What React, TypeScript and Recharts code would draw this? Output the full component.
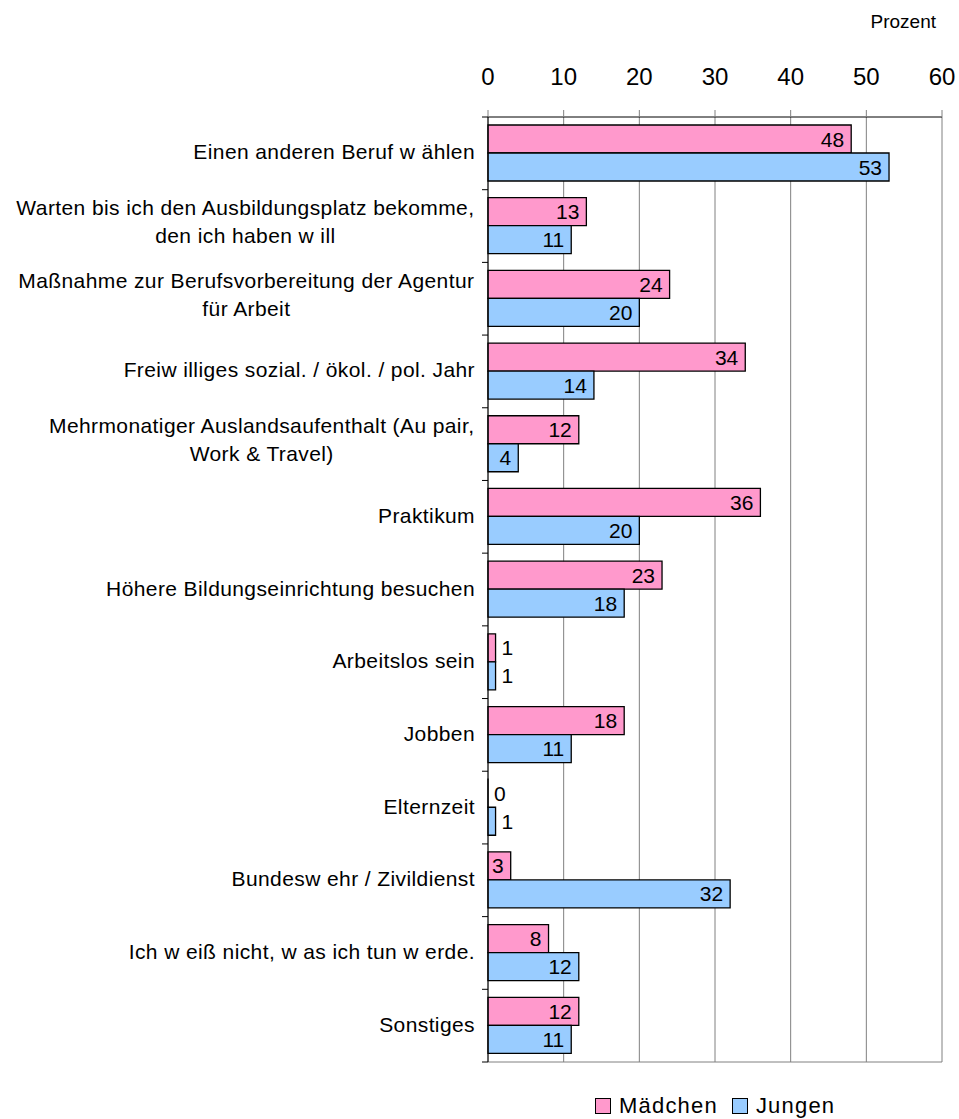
import { Bar, BarChart, CartesianGrid, Label, LabelList, Legend, XAxis, YAxis } from "recharts";

const categories: string[][] = [
  ["Einen anderen Beruf w ählen"],
  ["Warten bis ich den Ausbildungsplatz bekomme,", "den ich haben w ill"],
  ["Maßnahme zur Berufsvorbereitung der Agentur", "für Arbeit"],
  ["Freiw illiges sozial. / ökol. / pol. Jahr"],
  ["Mehrmonatiger Auslandsaufenthalt (Au pair,", "Work & Travel)"],
  ["Praktikum"],
  ["Höhere Bildungseinrichtung besuchen"],
  ["Arbeitslos sein"],
  ["Jobben"],
  ["Elternzeit"],
  ["Bundesw ehr / Zivildienst"],
  ["Ich w eiß nicht, w as ich tun w erde."],
  ["Sonstiges"],
];
const maedchen = [48, 13, 24, 34, 12, 36, 23, 1, 18, 0, 3, 8, 12];
const jungen = [53, 11, 20, 14, 4, 20, 18, 1, 11, 1, 32, 12, 11];
const xTicks = [0, 10, 20, 30, 40, 50, 60];
const seriesNames = ["Mädchen", "Jungen"];
const seriesColors = ["#FF99CC", "#99CCFF"];

const data = categories.map((lines, i) => ({
  name: lines.join(" "),
  lines,
  maedchen: maedchen[i],
  jungen: jungen[i],
}));

const W = 959;
const H = 1119;
const AXIS_X = 488;
const PLOT_TOP = 117;
const PLOT_BOTTOM = 1062;
const BAND = (PLOT_BOTTOM - PLOT_TOP) / categories.length;
const FONT = "'Liberation Sans', Arial, sans-serif";
const LABEL_SIZE = 21;
const LETTER_SP = 0.4;

let ctx: CanvasRenderingContext2D | null = null;
const measure = (s: string): number => {
  if (!ctx) ctx = document.createElement("canvas").getContext("2d");
  if (!ctx) return s.length * LABEL_SIZE * 0.5;
  ctx.font = `${LABEL_SIZE}px 'Liberation Sans'`;
  return ctx.measureText(s).width + s.length * LETTER_SP;
};

const CategoryTick = (props: any) => {
  const { y, payload, index } = props;
  const lines: string[] = data[index]?.lines ?? [String(payload.value)];
  const right = AXIS_X - 13;
  const widest = Math.max(...lines.map(measure));
  const cx = right - widest / 2;
  const lineGap = 28;
  const startY = y - ((lines.length - 1) * lineGap) / 2 - (lines.length > 1 ? 4 : 1) + 7;
  return (
    <g>
      <line x1={AXIS_X - 6} x2={AXIS_X} y1={y - BAND / 2} y2={y - BAND / 2} stroke="#000" />
      {index === categories.length - 1 && (
        <line x1={AXIS_X - 6} x2={AXIS_X} y1={y + BAND / 2} y2={y + BAND / 2} stroke="#000" />
      )}
      {lines.map((l, i) => (
        <text
          key={i}
          x={cx}
          y={startY + i * lineGap}
          textAnchor="middle"
          fontSize={LABEL_SIZE}
          fontFamily={FONT}
          letterSpacing={LETTER_SP}
          fill="#000"
        >
          {l}
        </text>
      ))}
    </g>
  );
};

const renderValue = (props: any) => {
  const { x, y, width, height, value } = props;
  const outside = value < 2;
  return (
    <text
      x={outside ? x + width + 6 : x + width - 7}
      y={y + height / 2 + 7.5}
      textAnchor={outside ? "start" : "end"}
      fontSize={21}
      fontFamily={FONT}
      fill="#000"
    >
      {value}
    </text>
  );
};

// keep series order as in the original legend (Mädchen first)
const renderLegend = () => (
  <div style={{ display: "flex", alignItems: "center", fontFamily: FONT, fontSize: 22, letterSpacing: 1.2 }}>
    {seriesNames.map((n, i) => (
      <span key={n} style={{ display: "flex", alignItems: "center", marginRight: 14 }}>
        <span
          style={{
            width: 14,
            height: 14,
            background: seriesColors[i],
            border: "1px solid #000",
            marginRight: 8,
            display: "inline-block",
          }}
        />
        {n}
      </span>
    ))}
  </div>
);

export default function App() {
  return (
    <div style={{ width: W, height: H, position: "relative", background: "#fff" }}>
      <style>{"body{margin:0}"}</style>
      <BarChart
        width={W}
        height={H}
        data={data}
        layout="vertical"
        margin={{ top: 0, right: 17, bottom: H - PLOT_BOTTOM, left: 0 }}
        barGap={0}
      >
        <CartesianGrid
          stroke="#808080"
          horizontal={true}
          horizontalCoordinatesGenerator={() => [PLOT_BOTTOM]}
          verticalCoordinatesGenerator={({ offset }: any) =>
            xTicks.map((t) => offset.left + (t / 60) * offset.width)
          }
        />
        <XAxis
          type="number"
          orientation="top"
          domain={[0, 60]}
          ticks={xTicks}
          height={PLOT_TOP}
          tickSize={7}
          tickMargin={25}
          axisLine={{ stroke: "#000" }}
          tickLine={{ stroke: "#808080" }}
          tick={{ fontSize: 24, fill: "#000", fontFamily: FONT }}
        >
          <Label
            content={({ viewBox }: any) => (
              <text
                x={viewBox.x + viewBox.width - 6}
                y={28}
                textAnchor="end"
                fontSize={19}
                fontFamily={FONT}
                fill="#000"
              >
                Prozent
              </text>
            )}
          />
        </XAxis>
        <YAxis
          type="category"
          dataKey="name"
          width={AXIS_X}
          interval={0}
          tickLine={false}
          axisLine={{ stroke: "#000" }}
          tick={<CategoryTick />}
        />
        <Legend
          layout="horizontal"
          verticalAlign="middle"
          align="center"
          content={renderLegend}
          wrapperStyle={{ position: "absolute", left: 595, top: 1093, width: "auto" }}
        />
        <Bar
          dataKey="maedchen"
          name={seriesNames[0]}
          fill={seriesColors[0]}
          stroke="#000"
          strokeWidth={1.3}
          barSize={28}
          minPointSize={0.01}
          isAnimationActive={false}
        >
          <LabelList dataKey="maedchen" content={renderValue} />
        </Bar>
        <Bar
          dataKey="jungen"
          name={seriesNames[1]}
          fill={seriesColors[1]}
          stroke="#000"
          strokeWidth={1.3}
          barSize={28}
          isAnimationActive={false}
        >
          <LabelList dataKey="jungen" content={renderValue} />
        </Bar>
      </BarChart>
    </div>
  );
}
